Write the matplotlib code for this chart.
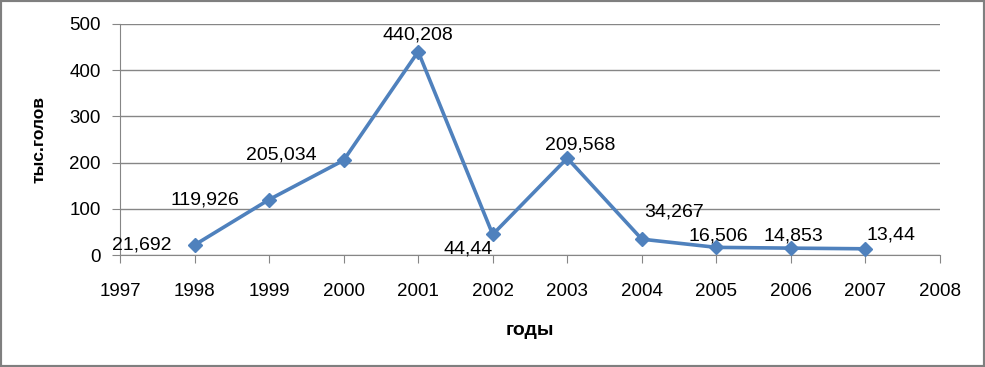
"""Line chart: thousand heads by year (1998-2007)."""

import matplotlib

matplotlib.use("Agg")
matplotlib.rcParams["font.family"] = ["Liberation Sans", "DejaVu Sans"]
import matplotlib.pyplot as plt  # noqa: E402
from matplotlib.patches import Rectangle  # noqa: E402

YEARS = [1998, 1999, 2000, 2001, 2002, 2003, 2004, 2005, 2006, 2007]
VALUES = [21.692, 119.926, 205.034, 440.208, 44.44, 209.568, 34.267, 16.506, 14.853, 13.44]
# label offsets in pixels relative to each point
OFFSETS = [(-53, 0), (-64, 0), (-62, 5), (0, 17), (-25, -15),
           (13, 13), (32, 27), (2, 11), (2, 12), (26, 14)]

LINE = "#4F81BD"
GRID = "#868686"

fig = plt.figure(figsize=(9.85, 3.67), dpi=100)
ax = fig.add_axes([120 / 985, 1 - 255 / 367, 820 / 985, 231 / 367])

ax.plot(YEARS, VALUES, color=LINE, lw=2.6, marker="D", markersize=7.5,
        markerfacecolor=LINE, markeredgecolor=LINE, zorder=3, clip_on=False)

for x, v, (dx, dy) in zip(YEARS, VALUES, OFFSETS):
    ax.annotate(f"{v:g}".replace(".", ","), (x, v), xytext=(dx, dy),
                textcoords="offset pixels", ha="center", va="center", fontsize=14)

ax.set_xlim(1997, 2008)
ax.set_ylim(0, 500)
ax.set_xticks(range(1997, 2009))
ax.set_yticks(range(0, 501, 100))
ax.grid(axis="y", color=GRID, lw=1)
ax.set_axisbelow(True)
for s in ("top", "right"):
    ax.spines[s].set_visible(False)
for s in ("left", "bottom"):
    ax.spines[s].set_color(GRID)
ax.tick_params(axis="both", colors=GRID, labelcolor="black", labelsize=13.5, length=6)
ax.tick_params(axis="x", pad=14)
ax.tick_params(axis="y", pad=8)

ax.set_xlabel("годы", fontsize=14, fontweight="bold", labelpad=16)
ax.set_ylabel("тыс.голов", fontsize=12.5, fontweight="bold", labelpad=16)

fig.patches.append(Rectangle((0, 0), 1, 1, transform=fig.transFigure, fill=False,
                             edgecolor="#7F7F7F", lw=3))

fig.savefig("out.png", dpi=100)
